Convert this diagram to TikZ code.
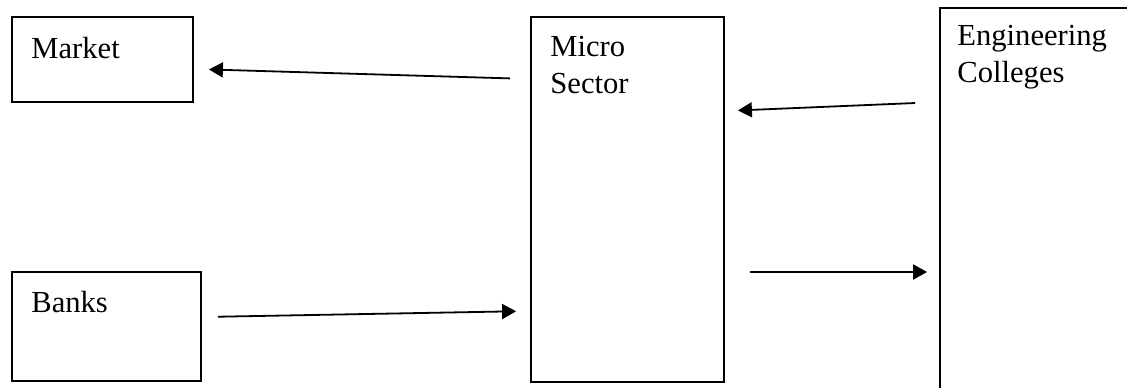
\documentclass[tikz,border=0pt]{standalone}
\usepackage{fontspec}
\setmainfont{Liberation Serif}
\usetikzlibrary{arrows.meta}

\begin{document}
\begin{tikzpicture}[x=0.5pt, y=-0.5pt, >={Triangle[length=7pt, width=7.5pt]},
  font=\fontsize{15.3}{18.5}\selectfont,
  box/.style={draw, line width=0.9pt, inner sep=0pt},
  boxtext/.style={anchor=base west, inner sep=0pt, align=left},
  line/.style={->, line width=0.9pt}]
\useasboundingbox (0,0) rectangle (1127,387);
\clip (0,0) rectangle (1127,387);

\node[box, minimum width=90.5pt, minimum height=42.5pt] (market) at (102.5,59.5) {};
\node[box, minimum width=94.5pt, minimum height=54.5pt] (banks) at (106.5,326.5) {};
\node[box, minimum width=96.5pt, minimum height=182.5pt] (micro) at (627.5,199.5) {};
\node[box, minimum width=104pt, minimum height=194pt] (college) at (1044,202) {};

% base of a two-line text is its last line
\node[boxtext] (markettxt) at (31,58) {Market};
\node[boxtext] (bankstxt) at (31,312) {Banks};
\node[boxtext] (microtxt) at (550,93) {Micro\\Sector};
\node[boxtext] (collegetxt) at (957,82) {Engineering\\Colleges};

\draw[line, shorten <=20pt*0.5, shorten >=15pt*0.5] ([yshift=60.25pt]micro.west) -- ([yshift=-4.75pt]market.east);
\draw[line, shorten <=24pt*0.5, shorten >=13pt*0.5] ([yshift=50pt]college.west) -- ([yshift=44.25pt]micro.east);
\draw[line, shorten <=16pt*0.5, shorten >=14pt*0.5] ([yshift=4.75pt]banks.east) -- ([yshift=-55.75pt]micro.west);
\draw[line, shorten <=25pt*0.5, shorten >=12pt*0.5] ([yshift=-36.25pt]micro.east) -- ([yshift=-35pt]college.west);
\end{tikzpicture}
\end{document}
